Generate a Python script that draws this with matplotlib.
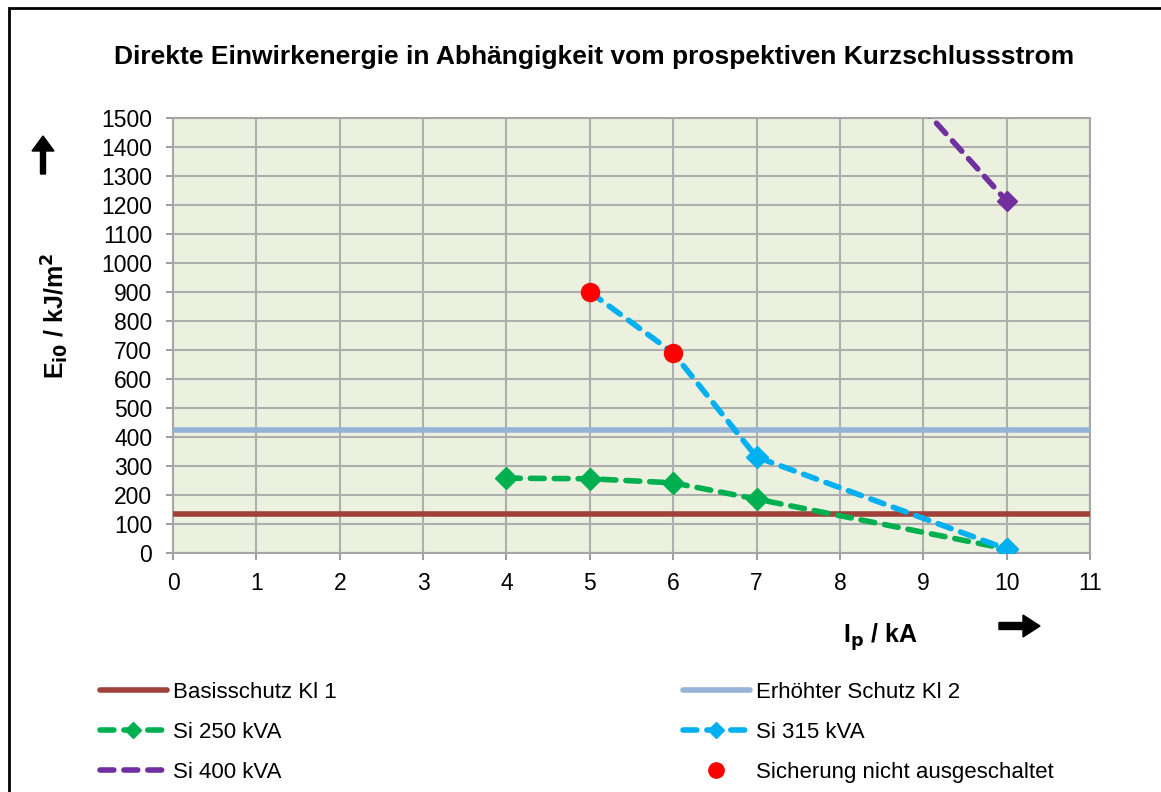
import numpy as np
import matplotlib
matplotlib.use("Agg")
import matplotlib.pyplot as plt
from matplotlib.lines import Line2D
from matplotlib.patches import Rectangle, FancyArrow

plt.rcParams['font.family'] = ['Liberation Sans', 'DejaVu Sans']

# data
basis_level = 135
erhoeht_level = 423

x_250 = [4, 5, 6, 7, 10]
y_250 = [258, 256, 242, 186, 14]

x_315 = [5, 6, 7, 10]
y_315 = [900, 690, 331, 14]

x_400 = [7, 10]
y_400 = [2170, 1214]

x_nicht = [5, 6]
y_nicht = [900, 690]

title = "Direkte Einwirkenergie in Abhängigkeit vom prospektiven Kurzschlussstrom"

fig = plt.figure(figsize=(11.61, 7.92), dpi=100)
ax = fig.add_axes([173 / 1161, 1 - 553 / 792, (1090 - 173) / 1161, (553 - 118) / 792])
ax.set_facecolor("#ebf0df")

c_basis = "#a0403a"
c_erh = "#95b3d7"
c_250 = "#00b050"
c_315 = "#00b0f0"
c_400 = "#7030a0"
dash = (0, (2.5, 1.8))

ax.axhline(basis_level, color=c_basis, lw=4, zorder=3)
ax.axhline(erhoeht_level, color=c_erh, lw=4, zorder=3)
ax.plot(x_250, y_250, color=c_250, lw=4, ls=dash, marker="D", ms=11,
        dash_capstyle="round", zorder=4)
ax.plot(x_315, y_315, color=c_315, lw=4, ls=dash, marker="D", ms=11,
        markevery=[2, 3], dash_capstyle="round", zorder=5)
ax.plot(x_400, y_400, color=c_400, lw=4, ls=dash, marker="D", ms=10,
        dash_capstyle="round", zorder=4)
ax.plot(x_nicht, y_nicht, "o", color="#ff0000", ms=13, zorder=6, ls="none")

ax.set_xlim(0, 11)
ax.set_ylim(0, 1500)
ax.set_xticks(range(0, 12))
ax.set_yticks(range(0, 1501, 100))
ax.grid(True, color="#aeaeae", lw=1.5)
ax.set_axisbelow(True)
for s in ax.spines.values():
    s.set_color("#a6a6a6")
    s.set_linewidth(1.5)
ax.tick_params(axis="both", labelsize=16.5, color="#8c8c8c", length=5, width=1.2)
ax.tick_params(axis="x", pad=9)
ax.tick_params(axis="y", pad=10)

fig.text(0.512, 1 - 57 / 792, title, ha="center", va="center", fontsize=19, fontweight="bold")
fig.text(55 / 1161, 1 - 316 / 792, r"E$_{\mathbf{i0}}$ / kJ/m$^{\mathbf{2}}$", rotation=90,
         ha="center", va="center", fontsize=18, fontweight="bold")
fig.text(880 / 1161, 1 - 637 / 792, r"I$_{\mathbf{p}}$ / kA", ha="center", va="center",
         fontsize=18, fontweight="bold")

# arrows
fig.patches.append(FancyArrow(43 / 1161, 1 - 174 / 792, 0, 38 / 792,
                   width=5 / 1161, head_width=22 / 1161, head_length=15 / 792,
                   transform=fig.transFigure, color="black", length_includes_head=True))
fig.patches.append(FancyArrow(999 / 1161, 1 - 626 / 792, 41 / 1161, 0,
                   width=7 / 792, head_width=22 / 792, head_length=17 / 1161,
                   transform=fig.transFigure, color="black", length_includes_head=True))

# chart border
fig.patches.append(Rectangle((9 / 1161, -0.1), 1.2, 1 - 8 / 792 + 0.1, transform=fig.transFigure,
                             fill=False, edgecolor="black", lw=2))

h_basis = Line2D([], [], color=c_basis, lw=4, solid_capstyle="round")
h_erh = Line2D([], [], color=c_erh, lw=4, solid_capstyle="round")
h_250 = Line2D([], [], color=c_250, lw=4, ls=dash, marker="D", ms=8, dash_capstyle="round")
h_315 = Line2D([], [], color=c_315, lw=4, ls=dash, marker="D", ms=8, dash_capstyle="round")
h_400 = Line2D([], [], color=c_400, lw=4, ls=dash, dash_capstyle="round")
h_nicht = Line2D([], [], color="#ff0000", marker="o", ms=11, ls="none")

leg_kw = dict(loc="upper left", frameon=False, fontsize=16, handlelength=3.0,
              handletextpad=0.3, labelspacing=0.85, borderpad=0, borderaxespad=0)
fig.legend([h_basis, h_250, h_400], ["Basisschutz Kl 1", "Si 250 kVA", "Si 400 kVA"],
           bbox_to_anchor=(100 / 1161, 1 - 682 / 792), **leg_kw)
fig.legend([h_erh, h_315, h_nicht], ["Erhöhter Schutz Kl 2", "Si 315 kVA", "Sicherung nicht ausgeschaltet"],
           bbox_to_anchor=(683 / 1161, 1 - 682 / 792), **leg_kw)

fig.savefig("out.png", dpi=100)
